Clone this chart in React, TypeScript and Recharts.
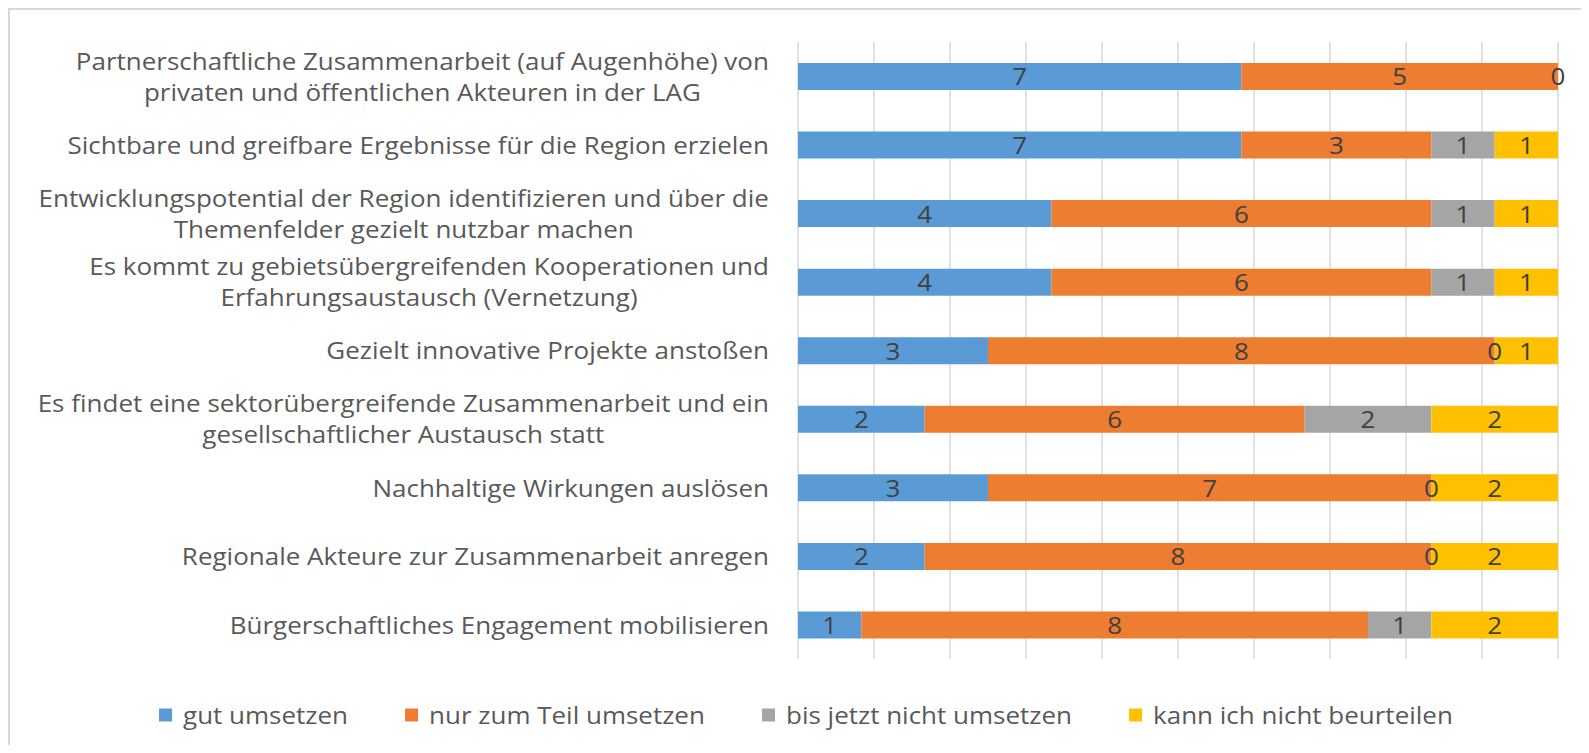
import { BarChart, Bar, XAxis, YAxis, CartesianGrid, LabelList } from 'recharts';

// categories (line breaks as in the original wrapped labels)
const CATEGORIES = [
  'Partnerschaftliche Zusammenarbeit (auf Augenhöhe) von\nprivaten und öffentlichen Akteuren in der LAG',
  'Sichtbare und greifbare Ergebnisse für die Region erzielen',
  'Entwicklungspotential der Region identifizieren und über die\nThemenfelder gezielt nutzbar machen',
  'Es kommt zu gebietsübergreifenden Kooperationen und\nErfahrungsaustausch (Vernetzung)',
  'Gezielt innovative Projekte anstoßen',
  'Es findet eine sektorübergreifende Zusammenarbeit und ein\ngesellschaftlicher Austausch statt',
  'Nachhaltige Wirkungen auslösen',
  'Regionale Akteure zur Zusammenarbeit anregen',
  'Bürgerschaftliches Engagement mobilisieren',
];

const GUT = [7, 7, 4, 4, 3, 2, 3, 2, 1];
const TEIL = [5, 3, 6, 6, 8, 6, 7, 8, 8];
const NICHT = [0, 1, 1, 1, 0, 2, 0, 0, 1];
const KANN = [null, 1, 1, 1, 1, 2, 2, 2, 2];

const SERIES = [
  { key: 'gut', name: 'gut umsetzen', color: '#5b9bd5' },
  { key: 'teil', name: 'nur zum Teil umsetzen', color: '#ed7d31' },
  { key: 'nicht', name: 'bis jetzt nicht umsetzen', color: '#a5a5a5' },
  { key: 'kann', name: 'kann ich nicht beurteilen', color: '#ffc000' },
];

// gridlines every 10% of the 12 answers
const GRID_TICKS = [0, 1.2, 2.4, 3.6, 4.8, 6, 7.2, 8.4, 9.6, 10.8, 12];

const data = CATEGORIES.map((name, i) => ({
  name,
  gut: GUT[i],
  teil: TEIL[i],
  nicht: NICHT[i],
  kann: KANN[i],
}));

const FONT = '"Open Sans", sans-serif';
const FS = 23;
const SX = 1.13; // original text is slightly stretched horizontally
const LINE_H = 31;

let ctx: CanvasRenderingContext2D | null = null;
const measure = (s: string) => {
  if (!ctx) ctx = document.createElement('canvas').getContext('2d');
  ctx!.font = `${FS}px "Open Sans"`;
  return ctx!.measureText(s).width * SX;
};

const CategoryTick = ({ x, y, payload }: any) => {
  const lines = String(payload.value).split('\n');
  const w = Math.max(...lines.map(measure));
  const cx = x - 29 - w / 2;
  return (
    <g transform={`translate(${cx},${y}) scale(${SX},1)`}>
      {lines.map((l, i) => (
        <text
          key={i}
          x={0}
          y={(i - (lines.length - 1) / 2) * LINE_H}
          textAnchor="middle"
          dominantBaseline="central"
          fill="#595959"
          fontSize={FS}
          fontFamily={FONT}
        >
          {l}
        </text>
      ))}
    </g>
  );
};

const Num = ({ cx, cy, value }: { cx: number; cy: number; value: any }) => (
  <g transform={`translate(${cx},${cy}) scale(${SX},1)`}>
    <text x={0} y={0} textAnchor="middle" dominantBaseline="central" fill="#404040" fontSize={FS} fontFamily={FONT}>
      {value}
    </text>
  </g>
);

const ValueLabel = ({ x, y, width, height, value }: any) => {
  if (value === null || value === undefined || Number(value) === 0) return null;
  return <Num cx={Number(x) + Number(width) / 2} cy={Number(y) + Number(height) / 2} value={value} />;
};

// zero-width "bis jetzt nicht" segments get no rectangle, so their "0" is drawn
// at the right end of the preceding orange segment
const ZeroNichtLabel = ({ x, y, width, height, index }: any) => {
  if (NICHT[index] !== 0) return null;
  return <Num cx={Number(x) + Number(width)} cy={Number(y) + Number(height) / 2} value={NICHT[index]} />;
};

const LegendRow = () => {
  const sq = 13;
  const gapIn = 11;
  const gapOut = 57;
  const widths = SERIES.map((s) => measure(s.name));
  const total = widths.reduce((a, w) => a + sq + gapIn + w, 0) + gapOut * (SERIES.length - 1);
  let cur = 796 - total / 2;
  const cy = 705;
  return (
    <svg width={1571} height={735} style={{ position: 'absolute', left: 0, top: 0, pointerEvents: 'none' }}>
      {SERIES.map((s, i) => {
        const x0 = cur;
        cur += sq + gapIn + widths[i] + gapOut;
        return (
          <g key={s.key}>
            <rect x={x0} y={cy - sq / 2} width={sq} height={sq} fill={s.color} />
            <g transform={`translate(${x0 + sq + gapIn},${cy}) scale(${SX},1)`}>
              <text x={0} y={0} dominantBaseline="central" fill="#595959" fontSize={FS} fontFamily={FONT}>
                {s.name}
              </text>
            </g>
          </g>
        );
      })}
    </svg>
  );
};

export default function App() {
  return (
    <div
      style={{
        position: 'relative',
        width: 1573,
        height: 737,
        boxSizing: 'border-box',
        borderTop: '2px solid #d9d9d9',
        borderLeft: '2px solid #d9d9d9',
        background: '#fff',
      }}
    >
      <BarChart
        width={1571}
        height={735}
        data={data}
        layout="vertical"
        margin={{ top: 32, right: 23, bottom: 86, left: 0 }}
      >
        <CartesianGrid horizontal={false} stroke="#d9d9d9" strokeWidth={1.5} />
        <XAxis type="number" domain={[0, 12]} ticks={GRID_TICKS} hide />
        <YAxis
          type="category"
          dataKey="name"
          width={788}
          axisLine={false}
          tickLine={false}
          tickSize={0}
          tickMargin={0}
          interval={0}
          tick={<CategoryTick />}
        />
        {SERIES.map((s) => (
          <Bar key={s.key} dataKey={s.key} name={s.name} stackId="a" fill={s.color} barSize={27} isAnimationActive={false}>
            <LabelList dataKey={s.key} content={<ValueLabel />} />
            {s.key === 'teil' && <LabelList dataKey="teil" content={<ZeroNichtLabel />} />}
          </Bar>
        ))}
      </BarChart>
      <LegendRow />
    </div>
  );
}
